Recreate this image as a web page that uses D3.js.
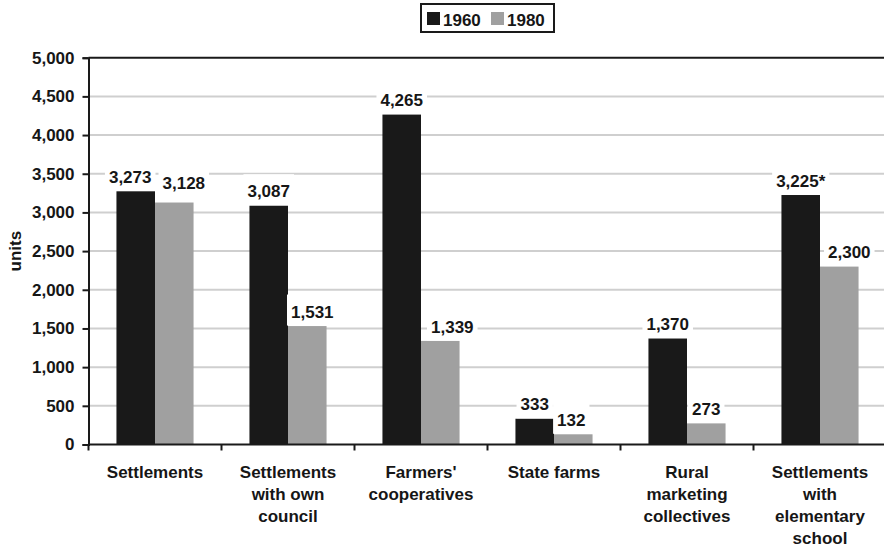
<!DOCTYPE html>
<html>
<head>
<meta charset="utf-8">
<script src="https://cdn.jsdelivr.net/npm/d3@7"></script>
<style>
  html, body { margin: 0; padding: 0; background: #fff; }
  svg { display: block; }
  text { font-family: "Liberation Sans", Arial, Helvetica, sans-serif; font-weight: bold; fill: #161616; }
</style>
</head>
<body>
<svg id="chart" width="884" height="546"></svg>
<script>
// Categories (multi-line labels) and the two series
const categories = [
  ["Settlements"],
  ["Settlements", "with own", "council"],
  ["Farmers'", "cooperatives"],
  ["State farms"],
  ["Rural", "marketing", "collectives"],
  ["Settlements", "with", "elementary", "school"]
];
const seriesNames = ["1960", "1980"];
const values1960 = [3273, 3087, 4265, 333, 1370, 3225];
const values1980 = [3128, 1531, 1339, 132, 273, 2300];
const labels1960 = ["3,273", "3,087", "4,265", "333", "1,370", "3,225*"];
const labels1980 = ["3,128", "1,531", "1,339", "132", "273", "2,300"];
const yTicks = [0, 500, 1000, 1500, 2000, 2500, 3000, 3500, 4000, 4500, 5000];
const yLabel = "units";

// Small nudges that keep neighbouring value labels apart
const nudge1960 = [[-5.5, 0], [0, 0], [0, 0], [0, 0], [0, 0], [0, 0]];
const nudge1980 = [[9.5, -5], [5, 0], [12, 0], [-2, 0], [0, 0], [10, 0]];

const colors = ["#191919", "#a0a0a0"];

const svg = d3.select("#chart");
const plot = { left: 88.5, top: 57.7, bottom: 444.5, band: 133 };
const right = plot.left + plot.band * categories.length;

const x = d3.scaleBand()
  .domain(d3.range(categories.length))
  .range([plot.left, right])
  .paddingInner(0).paddingOuter(0);
const x1 = d3.scaleBand()
  .domain(seriesNames)
  .range([0, x.bandwidth()])
  .paddingInner(0)
  .paddingOuter(0.725);
const y = d3.scaleLinear().domain([0, 5000]).range([plot.bottom, plot.top]);

// Horizontal gridlines
svg.append("g").selectAll("line")
  .data(yTicks.filter(t => t > 0 && t < 5000))
  .join("line")
  .attr("x1", plot.left).attr("x2", 884)
  .attr("y1", d => y(d)).attr("y2", d => y(d))
  .attr("stroke", "#cfcfcf").attr("stroke-width", 2);

// Top border of the plot area
svg.append("line")
  .attr("x1", plot.left).attr("x2", 884)
  .attr("y1", y(5000)).attr("y2", y(5000))
  .attr("stroke", "#1a1a1a").attr("stroke-width", 2);

// Bars
const rows = categories.map((c, i) => ({ i, v: [values1960[i], values1980[i]] }));
const groups = svg.append("g").selectAll("g")
  .data(rows).join("g")
  .attr("transform", d => `translate(${x(d.i)},0)`);
groups.selectAll("rect")
  .data(d => d.v.map((v, k) => ({ v, k })))
  .join("rect")
  .attr("x", d => x1(seriesNames[d.k]))
  .attr("width", x1.bandwidth())
  .attr("y", d => y(d.v))
  .attr("height", d => y(0) - y(d.v))
  .attr("fill", d => colors[d.k]);

// Value labels with white backing boxes
const labelData = [];
categories.forEach((c, i) => {
  labelData.push({ i, k: 0, v: values1960[i], t: labels1960[i], n: nudge1960[i] });
  labelData.push({ i, k: 1, v: values1980[i], t: labels1980[i], n: nudge1980[i] });
});
const lg = svg.append("g");
labelData.forEach(d => {
  const cx = x(d.i) + x1(seriesNames[d.k]) + x1.bandwidth() / 2 + d.n[0];
  const cy = y(d.v) - 14.5 + d.n[1];
  const g = lg.append("g");
  const rect = g.append("rect").attr("fill", "#fff");
  const t = g.append("text")
    .attr("x", cx).attr("y", cy).attr("dy", "0.36em")
    .attr("text-anchor", "middle")
    .attr("font-size", 17)
    .text(d.t);
  const w = t.node().getComputedTextLength();
  rect.attr("x", cx - w / 2 - 4).attr("width", w + 8)
    .attr("y", cy - 17).attr("height", 31);
});

// Y axis
const yAxis = svg.append("g")
  .attr("transform", `translate(${plot.left},0)`)
  .call(d3.axisLeft(y).tickValues(yTicks).tickFormat(d3.format(",")).tickSize(6).tickPadding(8));
yAxis.select(".domain").attr("stroke", "#1a1a1a").attr("stroke-width", 2);
yAxis.selectAll(".tick line").attr("stroke", "#1a1a1a").attr("stroke-width", 2);
yAxis.selectAll(".tick text")
  .attr("font-size", 17).attr("font-family", null).attr("fill", "#161616");

// X axis with tick marks at band boundaries
svg.append("line")
  .attr("x1", plot.left).attr("x2", 884)
  .attr("y1", y(0)).attr("y2", y(0))
  .attr("stroke", "#1a1a1a").attr("stroke-width", 2);
svg.append("g").selectAll("line")
  .data(d3.range(categories.length + 1))
  .join("line")
  .attr("x1", d => plot.left + d * x.bandwidth())
  .attr("x2", d => plot.left + d * x.bandwidth())
  .attr("y1", y(0)).attr("y2", y(0) + 6)
  .attr("stroke", "#1a1a1a").attr("stroke-width", 2);

// Category labels
svg.append("g").selectAll("text")
  .data(categories.map((c, i) => ({ c, i })))
  .join("text")
  .attr("text-anchor", "middle")
  .attr("font-size", 17)
  .each(function (d) {
    const t = d3.select(this);
    d.c.forEach((line, j) => {
      t.append("tspan")
        .attr("x", x(d.i) + x.bandwidth() / 2)
        .attr("y", 472 + j * 22)
        .attr("dy", "0.36em")
        .text(line);
    });
  });

// Y axis title
svg.append("text")
  .attr("transform", `translate(15,${(plot.top + plot.bottom) / 2}) rotate(-90)`)
  .attr("text-anchor", "middle")
  .attr("dy", "0.36em")
  .attr("font-size", 17)
  .text(yLabel);

// Legend
const legend = svg.append("g");
legend.append("rect")
  .attr("x", 421).attr("y", 4).attr("width", 133).attr("height", 28)
  .attr("fill", "#fff").attr("stroke", "#1a1a1a").attr("stroke-width", 2);
const legendX = [427, 491];
seriesNames.forEach((s, k) => {
  legend.append("rect")
    .attr("x", legendX[k]).attr("y", 12).attr("width", 13).attr("height", 13)
    .attr("fill", colors[k]);
  legend.append("text")
    .attr("x", legendX[k] + 16).attr("y", 25.5)
    .attr("font-size", 17)
    .text(s);
});
</script>
</body>
</html>
